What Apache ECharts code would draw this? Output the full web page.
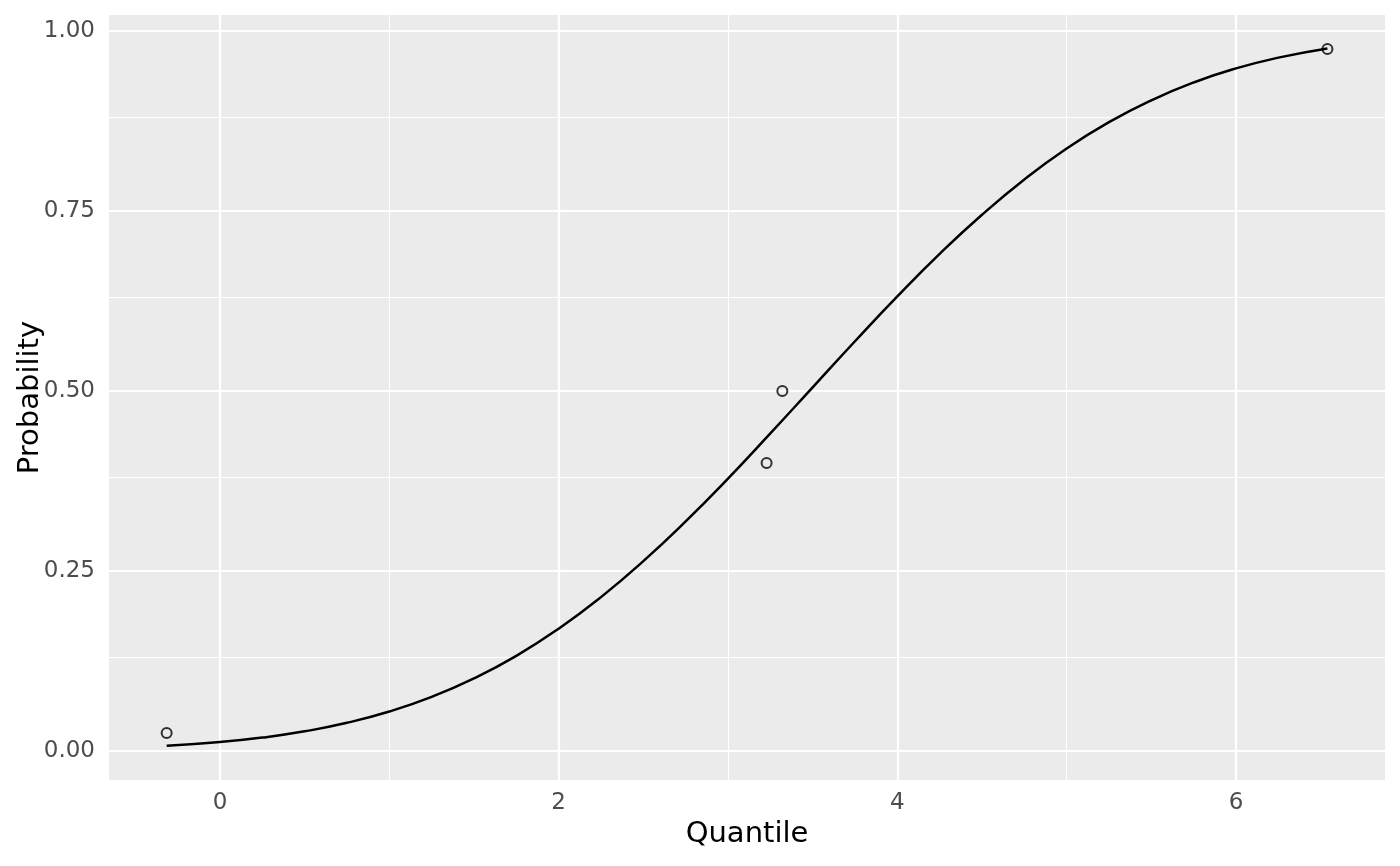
<!DOCTYPE html>
<html>
<head>
<meta charset="utf-8">
<script src="https://cdn.jsdelivr.net/npm/echarts@6/dist/echarts.min.js"></script>
<style>
html,body{margin:0;padding:0;background:#fff;}
#chart{width:1400px;height:866px;}
</style>
</head>
<body>
<div id="chart"></div>
<script>
// Fitted curve
var curveX = [-0.315, 0, 0.25, 0.5, 0.75, 1.0, 1.25, 1.5, 1.75, 2.0, 2.25, 2.5, 2.75, 3.0, 3.25, 3.5, 3.75, 4.0, 4.25, 4.5, 4.75, 5.0, 5.25, 5.5, 5.75, 6.0, 6.25, 6.54];
var curveY = [0.0072, 0.0124, 0.0186, 0.0273, 0.0391, 0.0548, 0.0751, 0.1008, 0.1322, 0.1698, 0.2137, 0.2636, 0.3188, 0.3783, 0.4411, 0.5051, 0.5691, 0.6313, 0.6904, 0.7447, 0.7937, 0.8367, 0.8733, 0.9037, 0.9285, 0.9480, 0.9630, 0.9758];
// Observed points
var pointX = [-0.315, 3.228, 3.321, 6.54];
var pointY = [0.025, 0.40, 0.50, 0.975];
// Tick / grid values
var xTicks = [0, 2, 4, 6];
var xMinor = [1, 3, 5];
var yTicks = [0, 0.25, 0.5, 0.75, 1.0];
var yMinor = [0.125, 0.375, 0.625, 0.875];

var xMin = -0.6555, xMax = 6.880, yMin = -0.0403, yMax = 1.0222;

function zip(a, b) { return a.map(function (v, i) { return [v, b[i]]; }); }

var gridLines = [];
xMinor.forEach(function (v) { gridLines.push({ xAxis: v, lineStyle: { color: '#ffffff', width: 1.1, type: 'solid' } }); });
yMinor.forEach(function (v) { gridLines.push({ yAxis: v, lineStyle: { color: '#ffffff', width: 1.1, type: 'solid' } }); });
xTicks.forEach(function (v) { gridLines.push({ xAxis: v, lineStyle: { color: '#ffffff', width: 2.2, type: 'solid' } }); });
yTicks.forEach(function (v) { gridLines.push({ yAxis: v, lineStyle: { color: '#ffffff', width: 2.2, type: 'solid' } }); });

var chart = echarts.init(document.getElementById('chart'), null, { renderer: 'canvas' });
chart.setOption({
  animation: false,
  backgroundColor: '#ffffff',
  textStyle: { fontFamily: 'DejaVu Sans' },
  grid: {
    left: 109, right: 15, top: 15, bottom: 86,
    containLabel: false, outerBoundsMode: 'none',
    show: true, backgroundColor: '#EBEBEB', borderWidth: 0
  },
  xAxis: {
    type: 'value', min: xMin, max: xMax,
    name: 'Quantile', nameLocation: 'middle', nameGap: 40, nameMoveOverlap: false,
    nameTextStyle: { color: '#000000', fontSize: 29, fontFamily: 'DejaVu Sans' },
    axisLine: { show: false },
    axisTick: { show: true, length: 7, customValues: xTicks, lineStyle: { color: '#333333', width: 2 } },
    axisLabel: { show: true, customValues: xTicks, margin: 12, color: '#4D4D4D', fontSize: 23, fontFamily: 'DejaVu Sans',
      formatter: function (v) { return String(v); } },
    splitLine: { show: false }
  },
  yAxis: {
    type: 'value', min: yMin, max: yMax,
    name: 'Probability', nameLocation: 'middle', nameGap: 64, nameRotate: 90, nameMoveOverlap: false,
    nameTextStyle: { color: '#000000', fontSize: 29, fontFamily: 'DejaVu Sans' },
    axisLine: { show: false },
    axisTick: { show: true, length: 7, customValues: yTicks, lineStyle: { color: '#333333', width: 2 } },
    axisLabel: { show: true, customValues: yTicks, margin: 14, color: '#4D4D4D', fontSize: 23, fontFamily: 'DejaVu Sans',
      formatter: function (v) { return v.toFixed(2); } },
    splitLine: { show: false }
  },
  series: [
    {
      type: 'line', data: [], silent: true, z: 1,
      markLine: { silent: true, z: 1, symbol: ['none', 'none'], label: { show: false }, animation: false, data: gridLines }
    },
    {
      type: 'line', data: zip(curveX, curveY), smooth: true, showSymbol: false, z: 3,
      lineStyle: { color: '#000000', width: 2.5 }
    },
    {
      type: 'scatter', data: zip(pointX, pointY), symbol: 'circle', symbolSize: 10, z: 4,
      itemStyle: { color: 'rgba(0,0,0,0)', borderColor: '#000000', borderWidth: 2 }
    }
  ]
});
</script>
</body>
</html>
